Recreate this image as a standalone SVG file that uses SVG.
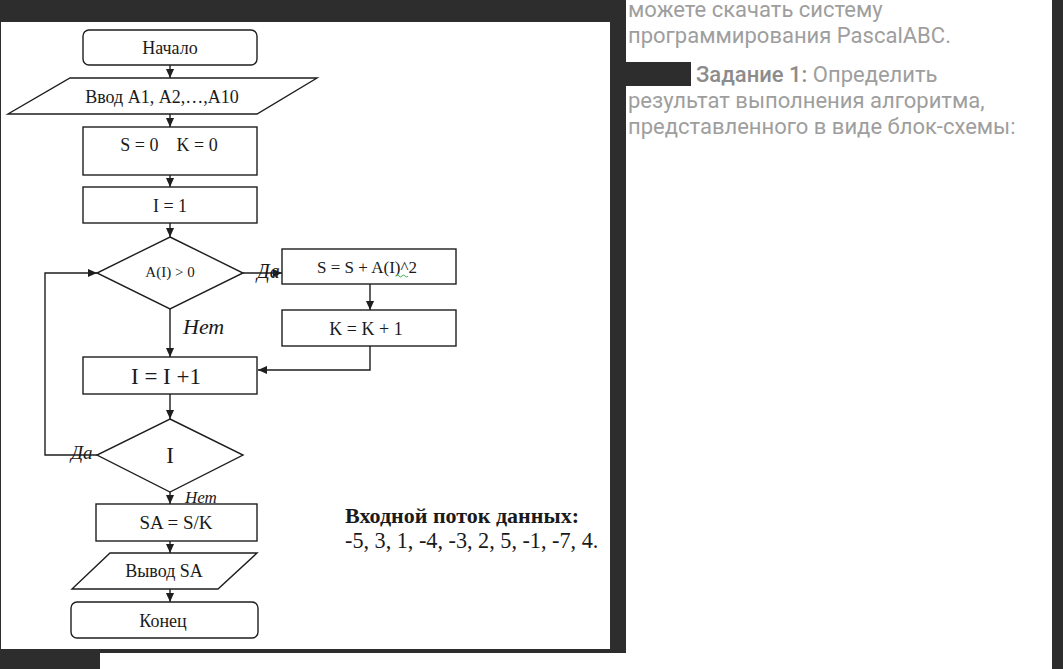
<svg xmlns="http://www.w3.org/2000/svg" width="1063" height="669" viewBox="0 0 1063 669">
<defs>
<style>
.sh{fill:#fff;stroke:#1e1e1e;stroke-width:1.4}
.ln{fill:none;stroke:#1e1e1e;stroke-width:1.4}
.t{font-family:"Liberation Serif","Times New Roman",serif;fill:#1a1a1a;text-anchor:middle}
.it{font-family:"Liberation Serif","Times New Roman",serif;fill:#1a1a1a;font-style:italic}
.r{font-family:Roboto,"Noto Sans",sans-serif;fill:#9e9e9e;font-size:22px}
</style>
<marker id="ah" viewBox="0 0 10 10" refX="10" refY="5" markerWidth="9" markerHeight="9" markerUnits="userSpaceOnUse" orient="auto">
<path d="M0,0.5 L10,5 L0,9.5 z" fill="#1e1e1e"/>
</marker>
</defs>
<rect x="0" y="0" width="1063" height="669" fill="#2d2d2d"/>
<rect x="1" y="22" width="609" height="627" fill="#fff"/>
<rect x="626" y="0" width="426" height="669" fill="#fff"/>
<rect x="100" y="653" width="952" height="16" fill="#fff"/>
<rect x="626" y="62" width="65" height="24" fill="#2d2d2d"/>

<g id="text-right">
<text class="r" x="628" y="17">можете скачать систему</text>
<text class="r" x="628" y="43">программирования PascalABC.</text>
<text class="r" x="696" y="82"><tspan font-weight="500" fill="#8c8c8c">Задание 1:</tspan> Определить</text>
<text class="r" x="628" y="108">результат выполнения алгоритма,</text>
<text class="r" x="628" y="134">представленного в виде блок-схемы:</text>
</g>

<g id="connectors">
<line class="ln" x1="170" y1="65" x2="170" y2="78" marker-end="url(#ah)"/>
<line class="ln" x1="170" y1="114" x2="170" y2="127" marker-end="url(#ah)"/>
<line class="ln" x1="170" y1="175" x2="170" y2="187" marker-end="url(#ah)"/>
<line class="ln" x1="170" y1="223" x2="170" y2="237" marker-end="url(#ah)"/>
<line class="ln" x1="243" y1="273" x2="282" y2="273" marker-end="url(#ah)"/>
<line class="ln" x1="370" y1="284" x2="370" y2="310" marker-end="url(#ah)"/>
<polyline class="ln" points="370,346 370,370 258,370" marker-end="url(#ah)"/>
<line class="ln" x1="170" y1="309" x2="170" y2="357" marker-end="url(#ah)"/>
<line class="ln" x1="170" y1="394" x2="170" y2="419" marker-end="url(#ah)"/>
<polyline class="ln" points="97,455 45,455 45,273 97,273" marker-end="url(#ah)"/>
<line class="ln" x1="170" y1="492" x2="170" y2="504" marker-end="url(#ah)"/>
<line class="ln" x1="170" y1="541" x2="170" y2="553" marker-end="url(#ah)"/>
<line class="ln" x1="170" y1="589" x2="170" y2="602" marker-end="url(#ah)"/>
<text class="it" x="257" y="278" font-size="20">Да</text>
<text class="it" x="183" y="334" font-size="22">Нет</text>
<text class="it" x="71" y="459" font-size="19">Да</text>
<text class="it" x="185" y="503" font-size="17">Нет</text>
</g>

<g id="start">
<rect class="sh" x="83" y="30" width="174" height="35" rx="6"/>
<text class="t" x="170" y="54" font-size="18">Начало</text>
</g>
<g id="input">
<polygon class="sh" points="70,78 317,78 257,114 8,114"/>
<text class="t" x="162" y="103" font-size="18">Ввод А1, А2,…,А10</text>
</g>
<g id="init">
<rect class="sh" x="83" y="127" width="174" height="48"/>
<text class="t" x="169" y="151" font-size="18" style="white-space:pre">S = 0    K = 0</text>
</g>
<g id="i1">
<rect class="sh" x="83" y="187" width="174" height="36"/>
<text class="t" x="170" y="212" font-size="18">I = 1</text>
</g>
<g id="cond1">
<polygon class="sh" points="170,237 243,273 170,309 97,273"/>
<text class="t" x="170" y="277" font-size="15">A(I) &gt; 0</text>
</g>
<g id="sum">
<rect class="sh" x="282" y="249" width="174" height="35"/>
<text class="t" x="367" y="273" font-size="17">S = S + A(I)^2</text>
<path d="M396,276 q1.5,-2 3,0 t3,0 t3,0 t3,0" fill="none" stroke="#3cb043" stroke-width="1"/>
</g>
<g id="kinc">
<rect class="sh" x="282" y="310" width="174" height="36"/>
<text class="t" x="366" y="335" font-size="18">K = K + 1</text>
</g>
<g id="iinc">
<rect class="sh" x="83" y="357" width="174" height="37"/>
<text class="t" x="166" y="384" font-size="23">I = I +1</text>
</g>
<g id="cond2">
<polygon class="sh" points="170,419 243,455 170,492 97,455"/>
<text class="t" x="170" y="463" font-size="23">I</text>
</g>
<g id="avg">
<rect class="sh" x="96" y="504" width="161" height="37"/>
<text class="t" x="176" y="529" font-size="19">SA = S/K</text>
</g>
<g id="output">
<polygon class="sh" points="110,553 257,553 218,589 72,589"/>
<text class="t" x="164" y="577" font-size="18">Вывод SA</text>
</g>
<g id="end">
<rect class="sh" x="71" y="602" width="187" height="36" rx="6"/>
<text class="t" x="163" y="627" font-size="18">Конец</text>
</g>

<g id="data">
<text x="345" y="523" font-family="Liberation Serif,serif" font-size="22" font-weight="bold" fill="#1a1a1a">Входной поток данных:</text>
<text x="345" y="548" font-family="Liberation Serif,serif" font-size="22.2" fill="#1a1a1a">-5, 3, 1, -4, -3, 2, 5, -1, -7, 4.</text>
</g>
</svg>
